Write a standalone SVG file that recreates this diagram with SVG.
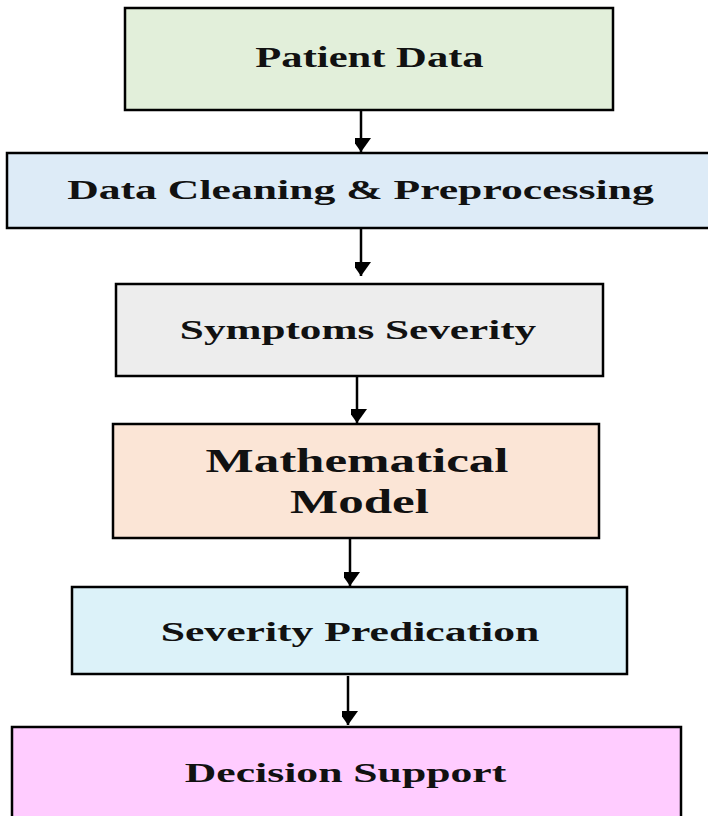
<svg xmlns="http://www.w3.org/2000/svg" width="708" height="816" viewBox="0 0 708 816">
  <style>
    .box { stroke: #000; stroke-width: 2.5; }
    .lbl { font-family: "Liberation Serif", "Times New Roman", serif; font-weight: bold; fill: #111; text-anchor: middle; }
    .conn { stroke: #000; stroke-width: 2.5; fill: none; }
  </style>
  <defs>
    <marker id="arrow" markerUnits="userSpaceOnUse" markerWidth="22" markerHeight="16" refX="21" refY="10" orient="auto">
      <path d="M7,0 L21,10 L7,20 Z" fill="#000"/>
    </marker>
  </defs>
  <rect width="708" height="816" fill="#ffffff"/>

  <g id="connectors">
    <line class="conn" x1="361" y1="110" x2="361" y2="152" marker-end="url(#arrow)"/>
    <line class="conn" x1="361" y1="229" x2="361" y2="276" marker-end="url(#arrow)"/>
    <line class="conn" x1="357" y1="376" x2="357" y2="423" marker-end="url(#arrow)"/>
    <line class="conn" x1="350" y1="538" x2="350" y2="586" marker-end="url(#arrow)"/>
    <line class="conn" x1="348" y1="676" x2="348" y2="725" marker-end="url(#arrow)"/>
  </g>

  <g id="patient-data">
    <rect class="box" x="125" y="8" width="488" height="102" fill="#E2EFDA"/>
    <text class="lbl" transform="translate(369.5,67) scale(1.47,1)" font-size="29">Patient Data</text>
  </g>

  <g id="data-cleaning">
    <rect class="box" x="7" y="153" width="712" height="75" fill="#DDEBF7"/>
    <text class="lbl" transform="translate(360.5,199) scale(1.56,1)" font-size="28">Data Cleaning &amp; Preprocessing</text>
  </g>

  <g id="symptoms-severity">
    <rect class="box" x="116" y="284" width="487" height="92" fill="#EDEDED"/>
    <text class="lbl" transform="translate(358,339) scale(1.6,1)" font-size="27">Symptoms Severity</text>
  </g>

  <g id="mathematical-model">
    <rect class="box" x="113" y="424" width="486" height="114" fill="#FBE5D6"/>
    <text class="lbl" transform="translate(357,472) scale(1.5,1)" font-size="34">Mathematical</text>
    <text class="lbl" transform="translate(359.5,513) scale(1.5,1)" font-size="34">Model</text>
  </g>

  <g id="severity-predication">
    <rect class="box" x="72" y="587" width="555" height="87" fill="#DCF2F9"/>
    <text class="lbl" transform="translate(350,641) scale(1.56,1)" font-size="28">Severity Predication</text>
  </g>

  <g id="decision-support">
    <rect class="box" x="12" y="727" width="669" height="110" fill="#FFCCFF"/>
    <text class="lbl" transform="translate(345.5,782) scale(1.56,1)" font-size="28">Decision Support</text>
  </g>
</svg>
